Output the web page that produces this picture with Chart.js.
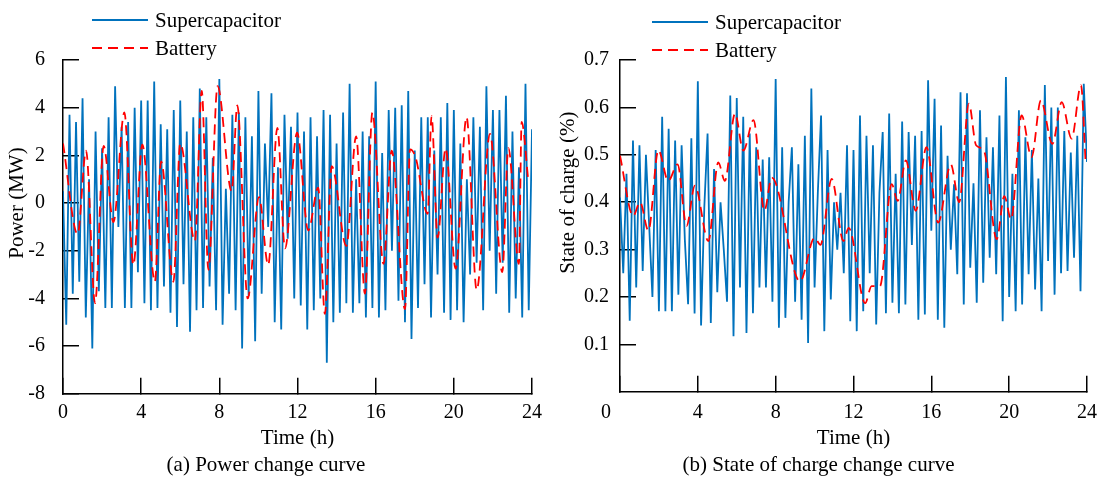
<!DOCTYPE html>
<html>
<head>
<meta charset="utf-8">
<script src="https://cdn.jsdelivr.net/npm/chart.js@4.4.1/dist/chart.umd.min.js"></script>
<style>
  html, body { margin: 0; padding: 0; background: #fff; }
  #wrap { position: relative; width: 1102px; height: 481px; }
  .panel { position: absolute; top: 0; height: 481px; }
  #panel-a { left: 0; width: 550px; }
  #panel-b { left: 550px; width: 552px; }
</style>
</head>
<body>
<div id="wrap">
  <div class="panel" id="panel-a"><canvas id="chart-power" width="550" height="481"></canvas></div>
  <div class="panel" id="panel-b"><canvas id="chart-soc" width="552" height="481"></canvas></div>
</div>
<script>
const BLUE = '#0072BD';
const RED = '#FF0000';
const FONT = '"Liberation Serif", "Times New Roman", serif';

// x axis (h)
const hourTicks = [0, 4, 8, 12, 16, 20, 24];
const powerTicks = [-8, -6, -4, -2, 0, 2, 4, 6];
const socTicks = [0.1, 0.2, 0.3, 0.4, 0.5, 0.6, 0.7];

// (a) supercapacitor power, MW, one value every 10 min
const scPower = [
  0.5, -5.1, 3.7, -3.8, 3.4, -3.3, 4.4, -4.8, 1.0, -6.1, 3.0, -3.7,
  2.3, -4.4, 3.6, -4.4, 4.9, -1.0, 3.2, -4.4, 3.4, -4.4, 4.0, -2.9,
  4.3, -4.2, 4.3, -4.5, 5.1, -4.4, 3.3, -3.5, 3.1, -4.6, 3.9, -5.2,
  4.3, -3.4, 3.0, -5.4, 3.6, -4.5, 4.8, -4.4, 3.6, -3.5, 1.9, -4.5,
  5.2, -5.1, 0.6, -3.8, 3.7, -4.5, 3.8, -6.1, 3.6, -3.9, 2.8, -5.8,
  4.7, -3.8, 2.5, -1.0, 4.6, -5.0, 1.5, -5.3, 3.7, -1.5, 3.2, -4.0,
  3.8, -4.3, 3.0, -5.3, 3.6, -4.5, 2.8, -4.0, 3.9, -6.7, 3.7, -5.0,
  2.5, -4.6, 3.8, -4.2, 5.0, -4.6, 1.0, -4.2, 3.0, -4.8, 2.8, -4.4,
  5.1, -4.8, 2.1, -4.5, 3.9, -2.0, 4.0, -4.1, 4.1, -5.0, 4.7, -5.7,
  2.2, -4.4, 3.6, -3.4, 3.6, -4.8, 2.2, -3.0, 3.6, -4.6, 4.2, -4.9,
  3.9, -4.5, 2.5, -5.0, 1.0, -3.0, 3.6, -2.5, 3.2, -4.5, 4.9, -2.0,
  3.9, -3.8, 3.9, -2.5, 4.5, -4.6, 3.0, -4.0, 1.5, -4.8, 5.0, -4.5,
  3.1
];

// (a) battery power, MW
const batPowerTime = [
  0, 0.75, 1.18, 1.64, 2.08, 2.58, 3.14, 3.6, 4.06, 4.7, 5.02, 5.65,
  6.0, 6.75, 7.1, 7.44, 7.91, 8.63, 8.92, 9.45, 10.03, 10.5, 10.97, 11.36,
  11.98, 12.55, 13.06, 13.4, 13.75, 14.5, 15.0, 15.45, 15.83, 16.4, 16.82, 17.5,
  17.76, 18.05, 18.66, 18.86, 19.17, 19.58, 20.09, 20.65, 21.17, 21.85, 22.48, 22.79,
  23.33, 23.47, 23.81
];
const batPower = [
  2.5, -1.3, 2.2, -4.2, 2.4, -0.8, 3.8, -2.6, 2.45, -3.3, 1.75, -3.3,
  2.5, -1.6, 4.7, -2.8, 4.9, 0.5, 4.1, -4.0, 0.25, -2.6, 3.15, -1.9,
  2.95, -1.15, 0.65, -4.65, 1.55, -1.8, 2.8, -3.8, 3.8, -2.55, 2.2, -4.45,
  2.25, 1.9, -0.45, 3.65, -1.45, 2.3, -2.75, 3.6, -3.65, 2.9, -2.9, 2.3,
  -2.55, 3.4, 0.95
];

// (b) supercapacitor state of charge, one value every 10 min
const scSoc = [
  0.41, 0.25, 0.46, 0.15, 0.53, 0.22, 0.52, 0.255, 0.50, 0.35, 0.20, 0.51,
  0.17, 0.58, 0.17, 0.555, 0.17, 0.53, 0.205, 0.52, 0.32, 0.185, 0.535, 0.165,
  0.655, 0.14, 0.39, 0.545, 0.145, 0.47, 0.21, 0.40, 0.30, 0.19, 0.625, 0.117,
  0.62, 0.22, 0.58, 0.124, 0.545, 0.166, 0.516, 0.22, 0.49, 0.22, 0.495, 0.19,
  0.66, 0.135, 0.516, 0.156, 0.40, 0.516, 0.19, 0.48, 0.152, 0.54, 0.103, 0.64,
  0.22, 0.42, 0.583, 0.128, 0.51, 0.195, 0.40, 0.30, 0.42, 0.25, 0.52, 0.149,
  0.51, 0.128, 0.583, 0.17, 0.54, 0.25, 0.52, 0.142, 0.42, 0.548, 0.166, 0.587,
  0.188, 0.46, 0.166, 0.57, 0.184, 0.548, 0.31, 0.54, 0.152, 0.55, 0.163, 0.657,
  0.34, 0.618, 0.152, 0.562, 0.135, 0.498, 0.30, 0.438, 0.248, 0.632, 0.184, 0.63,
  0.262, 0.44, 0.188, 0.594, 0.23, 0.537, 0.283, 0.516, 0.248, 0.583, 0.149, 0.664,
  0.20, 0.46, 0.17, 0.594, 0.184, 0.537, 0.248, 0.51, 0.216, 0.45, 0.17, 0.647,
  0.276, 0.60, 0.205, 0.60, 0.25, 0.55, 0.255, 0.505, 0.283, 0.54, 0.212, 0.65,
  0.485
];

// (b) battery state of charge
const batSocTime = [
  0, 0.68, 1.03, 1.46, 1.97, 2.48, 2.96, 3.42, 3.85, 4.54, 5.05, 5.39,
  5.91, 6.34, 6.86, 7.42, 7.8, 9.25, 10.0, 10.3, 10.88, 11.48, 11.75, 12.6,
  12.93, 13.36, 13.96, 14.27, 14.69, 15.2, 15.75, 16.35, 17.0, 17.43, 17.93, 18.3,
  18.7, 19.36, 19.75, 20.1, 20.64, 21.15, 21.63, 22.22, 22.7, 23.21, 23.69, 23.93
];
const batSoc = [
  0.498, 0.371, 0.40, 0.34, 0.51, 0.445, 0.48, 0.35, 0.435, 0.318, 0.484, 0.445,
  0.587, 0.509, 0.573, 0.382, 0.452, 0.233, 0.325, 0.31, 0.449, 0.318, 0.346, 0.187,
  0.223, 0.223, 0.438, 0.403, 0.488, 0.382, 0.516, 0.357, 0.48, 0.40, 0.608, 0.52,
  0.509, 0.322, 0.413, 0.364, 0.583, 0.495, 0.615, 0.523, 0.611, 0.534, 0.647, 0.484
];

const sampled = vals => vals.map((v, i) => ({ x: i * 24 / (vals.length - 1), y: v }));
const paired = (ts, vs) => ts.map((t, i) => ({ x: t, y: vs[i] }));

/* legend drawn above the plot: line sample + label, one row per dataset */
const stackedLegend = {
  id: 'stackedLegend',
  afterDraw(chart, args, opts) {
    const { ctx, chartArea } = chart;
    ctx.save();
    chart.data.datasets.forEach((ds, k) => {
      const x0 = chartArea.left + opts.x;
      const y = opts.y + k * opts.gap;
      ctx.strokeStyle = ds.borderColor;
      ctx.lineWidth = 2;
      ctx.setLineDash(ds.borderDash || []);
      ctx.beginPath();
      ctx.moveTo(x0, y);
      ctx.lineTo(x0 + 56, y);
      ctx.stroke();
      ctx.setLineDash([]);
      ctx.fillStyle = '#000';
      ctx.font = '21px ' + FONT;
      ctx.textBaseline = 'middle';
      ctx.fillText(ds.label, x0 + 63, y + 1);
    });
    ctx.restore();
  }
};

/* y axis label, centred on a chosen value of the y scale */
const sideTitle = {
  id: 'sideTitle',
  afterDraw(chart, args, opts) {
    const { ctx } = chart;
    const y = chart.scales.y.getPixelForValue(opts.at);
    ctx.save();
    ctx.translate(opts.x, y);
    ctx.rotate(-Math.PI / 2);
    ctx.fillStyle = '#000';
    ctx.font = '21px ' + FONT;
    ctx.textAlign = 'center';
    ctx.textBaseline = 'middle';
    ctx.fillText(opts.text, 0, 0);
    ctx.restore();
  }
};

/* the "0" under the origin of panel (b) sits left of the axis */
const originLabel = {
  id: 'originLabel',
  afterDraw(chart, args, opts) {
    if (!opts.show) return;
    const { ctx, chartArea } = chart;
    ctx.save();
    ctx.fillStyle = '#000';
    ctx.font = '20px ' + FONT;
    ctx.textAlign = 'center';
    ctx.textBaseline = 'middle';
    ctx.fillText('0', chartArea.left - 14, chartArea.bottom + 21);
    ctx.restore();
  }
};

function makePanel(canvasId, cfg) {
  return new Chart(document.getElementById(canvasId), {
    type: 'line',
    data: {
      datasets: [{
        label: 'Supercapacitor',
        data: cfg.sc,
        borderColor: BLUE,
        borderWidth: 1.8,
        pointRadius: 0,
        tension: 0,
        order: 2
      }, {
        label: 'Battery',
        data: cfg.bat,
        borderColor: RED,
        borderWidth: 1.8,
        borderDash: [10, 6],
        pointRadius: 0,
        cubicInterpolationMode: 'monotone',
        order: 1
      }]
    },
    options: {
      responsive: false,
      devicePixelRatio: 1,
      animation: false,
      layout: { padding: { top: 60, right: cfg.padRight, bottom: 0, left: 0 } },
      plugins: {
        legend: { display: false },
        tooltip: { enabled: false },
        title: {
          display: true,
          position: 'bottom',
          text: cfg.caption,
          color: '#000',
          font: { family: FONT, size: 21, weight: 'normal' },
          padding: { top: 0, bottom: 3 }
        },
        stackedLegend: { x: cfg.legendX, y: cfg.legendY, gap: 28 },
        sideTitle: { text: cfg.yTitle, at: cfg.yTitleAt, x: cfg.yTitleX },
        originLabel: { show: cfg.shiftZero }
      },
      scales: {
        x: {
          type: 'linear',
          min: 0,
          max: 24,
          afterBuildTicks: s => { s.ticks = hourTicks.map(v => ({ value: v })); },
          afterFit: s => {
            s.height = cfg.xHeight;
            s.paddingLeft = 10;
            s.paddingRight = 10;
          },
          border: { color: '#000', width: 1.5 },
          grid: { drawOnChartArea: false, tickLength: -16, color: '#000', lineWidth: 1.5 },
          ticks: {
            color: '#000',
            font: { family: FONT, size: 20 },
            padding: cfg.xPad,
            maxRotation: 0,
            callback: v => (cfg.shiftZero && v === 0) ? '' : v
          },
          title: {
            display: true,
            text: 'Time (h)',
            color: '#000',
            font: { family: FONT, size: 21 },
            padding: { top: 0, bottom: 2 }
          }
        },
        y: {
          min: cfg.yMin,
          max: cfg.yMax,
          afterBuildTicks: s => { s.ticks = cfg.yTicks.map(v => ({ value: v })); },
          afterFit: s => {
            s.width = cfg.yWidth;
            s.paddingTop = 12;
            s.paddingBottom = 12;
          },
          border: { color: '#000', width: 1.5 },
          grid: { drawOnChartArea: false, tickLength: -16, color: '#000', lineWidth: 1.5 },
          ticks: {
            color: '#000',
            font: { family: FONT, size: 20 },
            padding: cfg.yPad,
            callback: cfg.yFmt
          }
        }
      }
    },
    plugins: [stackedLegend, sideTitle, originLabel]
  });
}

makePanel('chart-power', {
  sc: sampled(scPower),
  bat: paired(batPowerTime, batPower),
  caption: '(a) Power change curve',
  yTitle: 'Power (MW)',
  yTitleAt: 0, yTitleX: 17,
  yMin: -8, yMax: 6, yTicks: powerTicks,
  yFmt: v => v,
  yWidth: 63, yPad: 34,
  xHeight: 59, xPad: 23,
  padRight: 18,
  legendX: 29, legendY: 20,
  shiftZero: false
});

makePanel('chart-soc', {
  sc: sampled(scSoc),
  bat: paired(batSocTime, batSoc),
  caption: '(b) State of charge change curve',
  yTitle: 'State of charge (%)',
  yTitleAt: 0.42, yTitleX: 18,
  yMin: 0, yMax: 0.7, yTicks: socTicks,
  yFmt: v => v.toFixed(1),
  yWidth: 70, yPad: 27,
  xHeight: 61, xPad: 25,
  padRight: 15,
  legendX: 32, legendY: 22,
  shiftZero: true
});
</script>
</body>
</html>
